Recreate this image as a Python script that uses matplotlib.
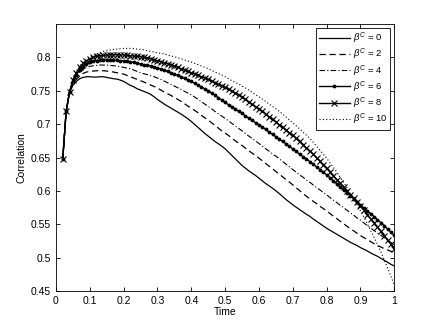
import numpy as np
import matplotlib
matplotlib.use("Agg")
import matplotlib.pyplot as plt

plt.rcParams['font.family'] = ['Liberation Sans', 'DejaVu Sans']
plt.rcParams['mathtext.fontset'] = 'custom'
plt.rcParams['mathtext.rm'] = 'Liberation Sans'
plt.rcParams['mathtext.it'] = 'Liberation Sans:italic'

time = np.round(np.arange(0.02, 1.0001, 0.01), 2)

beta_labels = ["0", "2", "4", "6", "8", "10"]

corr_b0 = [0.648, 0.719, 0.748,
    0.758, 0.764, 0.768, 0.770, 0.771, 0.771, 0.7705, 0.7705, 0.771, 0.771,
    0.770, 0.769, 0.768, 0.7675, 0.766, 0.764, 0.761, 0.758, 0.756, 0.753,
    0.751, 0.749, 0.747, 0.7445, 0.741, 0.737, 0.7335, 0.730, 0.727, 0.724,
    0.721, 0.718, 0.715, 0.7115, 0.708, 0.704, 0.6995, 0.695, 0.6905, 0.686,
    0.682, 0.678, 0.674, 0.6705, 0.667, 0.663, 0.658, 0.653, 0.648, 0.643,
    0.638, 0.634, 0.630, 0.6265, 0.623, 0.619, 0.615, 0.611, 0.6075, 0.604,
    0.600, 0.596, 0.5915, 0.587, 0.583, 0.579, 0.5755, 0.572, 0.5685, 0.565,
    0.562, 0.558, 0.5545, 0.551, 0.5475, 0.544, 0.541, 0.538, 0.535, 0.532,
    0.529, 0.526, 0.523, 0.5205, 0.518, 0.515, 0.5125, 0.510, 0.507, 0.5045,
    0.502, 0.499, 0.496, 0.493, 0.490, 0.4875]

corr_b2 = [0.648, 0.719, 0.748,
    0.760, 0.767, 0.772, 0.776, 0.778, 0.779, 0.7795, 0.780, 0.780, 0.780,
    0.7795, 0.779, 0.778, 0.777, 0.776, 0.775, 0.773, 0.771, 0.769, 0.767,
    0.765, 0.763, 0.761, 0.7585, 0.7565, 0.754, 0.751, 0.748, 0.7455, 0.743,
    0.740, 0.737, 0.734, 0.7305, 0.727, 0.724, 0.7205, 0.717, 0.713, 0.7095,
    0.706, 0.702, 0.698, 0.694, 0.690, 0.6865, 0.683, 0.679, 0.675, 0.6715,
    0.668, 0.664, 0.660, 0.6565, 0.6525, 0.649, 0.645, 0.641, 0.637, 0.633,
    0.629, 0.625, 0.621, 0.617, 0.613, 0.609, 0.6045, 0.6005, 0.596, 0.592,
    0.588, 0.5845, 0.581, 0.577, 0.5735, 0.570, 0.566, 0.562, 0.5585, 0.5545,
    0.551, 0.547, 0.5435, 0.540, 0.5365, 0.533, 0.530, 0.527, 0.524, 0.521,
    0.518, 0.516, 0.5135, 0.5115, 0.5095, 0.508]

corr_b4 = [0.648, 0.719, 0.748,
    0.762, 0.771, 0.778, 0.782, 0.785, 0.7865, 0.7875, 0.788, 0.7885, 0.7885,
    0.7885, 0.788, 0.7875, 0.787, 0.786, 0.785, 0.784, 0.783, 0.781, 0.779,
    0.777, 0.7755, 0.774, 0.7725, 0.771, 0.769, 0.767, 0.7645, 0.762, 0.7595,
    0.757, 0.7545, 0.752, 0.749, 0.7465, 0.744, 0.7405, 0.737, 0.7335, 0.730,
    0.7265, 0.723, 0.719, 0.7155, 0.712, 0.7085, 0.705, 0.701, 0.6975, 0.6935,
    0.690, 0.686, 0.682, 0.6785, 0.6745, 0.671, 0.667, 0.663, 0.6595, 0.6555,
    0.652, 0.648, 0.644, 0.640, 0.636, 0.632, 0.628, 0.624, 0.6205, 0.6165,
    0.613, 0.609, 0.605, 0.6015, 0.5975, 0.594, 0.590, 0.586, 0.5825, 0.5785,
    0.575, 0.571, 0.567, 0.5635, 0.5595, 0.556, 0.552, 0.548, 0.5445, 0.5405,
    0.537, 0.5335, 0.530, 0.526, 0.5225, 0.519]

corr_b6 = [0.648, 0.719, 0.748,
    0.764, 0.774, 0.781, 0.786, 0.790, 0.7925, 0.794, 0.795, 0.7955, 0.796,
    0.796, 0.796, 0.796, 0.7955, 0.795, 0.7945, 0.794, 0.7935, 0.7925, 0.791,
    0.790, 0.789, 0.788, 0.787, 0.7855, 0.784, 0.7825, 0.781, 0.779, 0.777,
    0.775, 0.773, 0.771, 0.7685, 0.766, 0.764, 0.761, 0.758, 0.7555, 0.753,
    0.750, 0.7465, 0.743, 0.7395, 0.736, 0.7325, 0.729, 0.726, 0.7225, 0.719,
    0.716, 0.7125, 0.709, 0.7055, 0.702, 0.699, 0.6955, 0.692, 0.688, 0.6845,
    0.681, 0.6775, 0.674, 0.6705, 0.6665, 0.663, 0.659, 0.655, 0.6515, 0.648,
    0.644, 0.640, 0.636, 0.632, 0.628, 0.624, 0.6195, 0.615, 0.611, 0.6065,
    0.602, 0.5975, 0.593, 0.5885, 0.5835, 0.579, 0.5745, 0.570, 0.566, 0.5615,
    0.557, 0.5525, 0.548, 0.543, 0.538, 0.5335]

corr_b8 = [0.648, 0.719, 0.748,
    0.766, 0.777, 0.785, 0.791, 0.795, 0.798, 0.800, 0.8015, 0.8025, 0.803,
    0.8035, 0.804, 0.804, 0.804, 0.804, 0.8035, 0.803, 0.8025, 0.802, 0.8015,
    0.801, 0.800, 0.799, 0.798, 0.7965, 0.795, 0.7935, 0.792, 0.7905, 0.789,
    0.787, 0.785, 0.783, 0.781, 0.779, 0.777, 0.775, 0.773, 0.771, 0.769,
    0.767, 0.7645, 0.762, 0.760, 0.7575, 0.755, 0.752, 0.749, 0.7465, 0.744,
    0.741, 0.737, 0.733, 0.7295, 0.726, 0.723, 0.719, 0.715, 0.711, 0.707,
    0.703, 0.699, 0.695, 0.691, 0.687, 0.683, 0.6785, 0.674, 0.669, 0.6645,
    0.660, 0.655, 0.6495, 0.6445, 0.639, 0.634, 0.6285, 0.623, 0.617, 0.6115,
    0.606, 0.600, 0.594, 0.589, 0.583, 0.577, 0.571, 0.5645, 0.558, 0.552,
    0.546, 0.5395, 0.533, 0.5265, 0.520, 0.5135]

corr_b10 = [0.648, 0.719, 0.748,
    0.768, 0.779, 0.787, 0.793, 0.797, 0.800, 0.803, 0.805, 0.807, 0.809,
    0.810, 0.811, 0.812, 0.8125, 0.813, 0.8135, 0.8135, 0.8135, 0.813, 0.8125,
    0.812, 0.811, 0.810, 0.809, 0.808, 0.807, 0.806, 0.805, 0.8035, 0.802,
    0.801, 0.7995, 0.798, 0.796, 0.7945, 0.793, 0.791, 0.789, 0.787, 0.785,
    0.783, 0.7805, 0.778, 0.776, 0.7735, 0.771, 0.768, 0.765, 0.7625, 0.760,
    0.757, 0.754, 0.751, 0.7475, 0.744, 0.741, 0.7375, 0.734, 0.730, 0.7265,
    0.723, 0.719, 0.715, 0.7105, 0.706, 0.702, 0.6975, 0.693, 0.688, 0.6835,
    0.679, 0.673, 0.667, 0.661, 0.655, 0.649, 0.642, 0.635, 0.628, 0.6205,
    0.613, 0.605, 0.596, 0.588, 0.579, 0.570, 0.561, 0.551, 0.5405, 0.5305,
    0.520, 0.509, 0.497, 0.4845, 0.472, 0.459]

series = [corr_b0, corr_b2, corr_b4, corr_b6, corr_b8, corr_b10]
styles = [
    dict(linestyle='-', linewidth=0.9),
    dict(linestyle=(0, (5, 3)), linewidth=0.9),
    dict(linestyle=(0, (5, 2, 1, 2)), linewidth=0.8),
    dict(linestyle='-', linewidth=1.0, marker='.', markersize=3.5),
    dict(linestyle='-', linewidth=1.0, marker='x', markersize=4.5, markeredgewidth=0.8),
    dict(linestyle=(0, (1, 2)), linewidth=0.8),
]

fig = plt.figure(figsize=(4.36, 3.28), dpi=100)
ax = fig.add_axes([0.1284, 0.1128, 0.776, 0.814])

for vals, lab, st in zip(series, beta_labels, styles):
    ax.plot(time, vals, color='black', label=r'$\beta^C$ = ' + lab, **st)

ax.set_xlim(0, 1)
ax.set_ylim(0.45, 0.85)
ax.set_xticks(np.round(np.arange(0, 1.01, 0.1), 1))
ax.set_xticklabels(['0', '0.1', '0.2', '0.3', '0.4', '0.5', '0.6', '0.7', '0.8', '0.9', '1'])
ax.set_yticks(np.round(np.arange(0.45, 0.81, 0.05), 2))
ax.set_yticklabels(['0.45', '0.5', '0.55', '0.6', '0.65', '0.7', '0.75', '0.8'])
ax.tick_params(direction='in', top=True, right=True, labelsize=7.5, length=3, width=0.6)
for s in ax.spines.values():
    s.set_linewidth(0.6)
ax.set_xlabel('Time', fontsize=7.5, labelpad=1)
ax.set_ylabel('Correlation', fontsize=7.5, labelpad=3)

leg = ax.legend(loc='upper right', fontsize=6.8, handlelength=3.3, handletextpad=0.3,
                labelspacing=0.08, borderpad=0.3, fancybox=False, framealpha=1,
                edgecolor='black', borderaxespad=0.45)
leg.get_frame().set_linewidth(0.6)

fig.savefig('out.png', dpi=100)
